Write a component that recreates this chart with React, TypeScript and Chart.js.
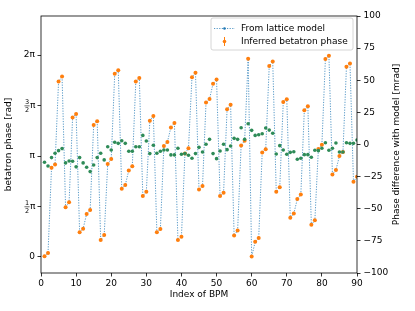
import { useEffect, useRef } from 'react';
import { Chart, registerables } from 'chart.js';
Chart.register(...registerables);

const bpmIndex = [
  1, 2, 3, 4, 5, 6, 7, 8, 9, 10, 11, 12, 13, 14, 15, 16, 17, 18, 19, 20,
  21, 22, 23, 24, 25, 26, 27, 28, 29, 30, 31, 32, 33, 34, 35, 36, 37, 38, 39, 40,
  41, 42, 43, 44, 45, 46, 47, 48, 49, 50, 51, 52, 53, 54, 55, 56, 57, 58, 59, 60,
  61, 62, 63, 64, 65, 66, 67, 68, 69, 70, 71, 72, 73, 74, 75, 76, 77, 78, 79, 80,
  81, 82, 83, 84, 85, 86, 87, 88, 89, 90,
];

// betatron phase [rad], wrapped to [0, 2π)
const betatronPhase = [
  0.02, 0.12, 2.78, 2.88, 5.46, 5.62, 1.55, 1.70, 4.34, 4.45,
  0.77, 0.88, 1.34, 1.46, 4.11, 4.22, 0.53, 0.68, 2.89, 3.05,
  5.70, 5.81, 2.12, 2.24, 2.69, 2.82, 5.46, 5.57, 1.90, 2.03,
  4.24, 4.39, 0.77, 0.87, 3.45, 3.58, 4.03, 4.17, 0.53, 0.63,
  3.22, 3.38, 5.59, 5.73, 2.10, 2.21, 4.81, 4.92, 5.39, 5.52,
  1.90, 2.00, 4.60, 4.74, 0.67, 0.82, 3.47, 3.62, 6.17, 0.01,
  0.47, 0.59, 3.25, 3.35, 5.94, 6.08, 2.03, 2.17, 4.82, 4.91,
  1.22, 1.35, 1.80, 1.94, 4.57, 4.69, 1.00, 1.14, 3.36, 3.49,
  6.16, 6.26, 2.57, 2.71, 3.14, 3.27, 5.92, 6.02, 2.34, 2.50,
];

// phase difference with model [mrad]
const phaseDifference = [
  -13.8, -16.7, -10.2, -6.8, -4.8, -3.2, -14.3, -12.8, -13.0, -17.4,
  -10.2, -14.3, -17.7, -21.1, -15.9, -10.2, -6.8, -12.0, -1.7, -4.3,
  1.7, 0.9, 2.9, 0.9, -5.3, -5.3, -1.7, -1.7, 7.1, 2.7,
  -7.1, -0.6, -6.8, -5.3, -4.3, -4.3, -8.1, -8.1, -2.9, -7.6,
  -7.1, -8.4, -10.7, -7.1, -2.2, -5.8, 0.2, 4.0, -7.1, -11.0,
  -5.0, 0.2, -4.0, -1.2, 4.8, 4.0, 13.0, 4.0, 16.1, 11.0,
  7.1, 7.6, 8.4, 12.8, 11.2, 8.7, -7.4, -0.9, -4.3, -7.6,
  -6.1, -5.6, -11.5, -10.7, -7.9, -7.9, -9.9, -4.5, -4.8, -2.9,
  1.4, -4.5, -2.9, 1.2, -5.8, -5.8, 1.4, 0.9, 0.9, 3.5,
];

const xTicks = [0, 10, 20, 30, 40, 50, 60, 70, 80, 90];
const phaseTickValues = [0, Math.PI / 2, Math.PI, (3 * Math.PI) / 2, 2 * Math.PI];
const phaseTickLabels = ['0', '1/2π', 'π', '3/2π', '2π'];
const diffTicks = [-100, -75, -50, -25, 0, 25, 50, 75, 100];

const FONT = 'DejaVu Sans';
const BLUE = '#1f77b4';
const ORANGE = '#ff7f0e';
const GREEN = '#2e8b57';

const framePlugin = {
  id: 'frame',
  afterDraw(chart: any) {
    const { ctx, chartArea: a } = chart;
    ctx.save();
    ctx.strokeStyle = '#000';
    ctx.lineWidth = 0.8;
    ctx.strokeRect(a.left, a.top, a.right - a.left, a.bottom - a.top);
    ctx.restore();
  },
};

const fractionPlugin = {
  id: 'fractions',
  afterDraw(chart: any) {
    const s = chart.scales.yL;
    const ctx = chart.ctx;
    ctx.save();
    ctx.fillStyle = '#000';
    ctx.strokeStyle = '#000';
    phaseTickValues.forEach((v, i) => {
      const lab = phaseTickLabels[i];
      if (!lab.includes('/')) return;
      const [num, rest] = lab.split('/');
      const den = rest.replace('π', '');
      const y = s.getPixelForValue(v);
      const xr = s.right - 3 - 2.5;
      ctx.font = `9px "${FONT}"`;
      const piW = ctx.measureText('π').width;
      ctx.textAlign = 'right';
      ctx.textBaseline = 'middle';
      ctx.fillText('π', xr, y + 0.5);
      ctx.font = `6.5px "${FONT}"`;
      const dw = Math.max(ctx.measureText(num).width, ctx.measureText(den).width);
      const cx = xr - piW - 1 - dw / 2;
      ctx.textAlign = 'center';
      ctx.textBaseline = 'alphabetic';
      ctx.fillText(num, cx, y - 1.2);
      ctx.textBaseline = 'top';
      ctx.fillText(den, cx, y + 1.4);
      ctx.lineWidth = 0.6;
      ctx.beginPath();
      ctx.moveTo(cx - dw / 2 - 0.5, y + 0.3);
      ctx.lineTo(cx + dw / 2 + 0.5, y + 0.3);
      ctx.stroke();
    });
    ctx.restore();
  },
};

const rightTitlePlugin = {
  id: 'rightTitle',
  afterDraw(chart: any) {
    const { ctx, chartArea: a } = chart;
    ctx.save();
    ctx.translate(397, (a.top + a.bottom) / 2);
    ctx.rotate(-Math.PI / 2);
    ctx.font = `9px "${FONT}"`;
    ctx.fillStyle = '#000';
    ctx.textAlign = 'center';
    ctx.textBaseline = 'middle';
    ctx.fillText('Phase difference with model [mrad]', 0, 0);
    ctx.restore();
  },
};

const legendPlugin = {
  id: 'customLegend',
  afterDraw(chart: any) {
    const ctx = chart.ctx;
    const ds = chart.data.datasets;
    const x0 = 211, y0 = 18, w = 142, h = 32;
    ctx.save();
    ctx.beginPath();
    const r = 2;
    ctx.moveTo(x0 + r, y0);
    ctx.arcTo(x0 + w, y0, x0 + w, y0 + h, r);
    ctx.arcTo(x0 + w, y0 + h, x0, y0 + h, r);
    ctx.arcTo(x0, y0 + h, x0, y0, r);
    ctx.arcTo(x0, y0, x0 + w, y0, r);
    ctx.closePath();
    ctx.fillStyle = 'rgba(255,255,255,0.8)';
    ctx.fill();
    ctx.strokeStyle = '#cccccc';
    ctx.lineWidth = 0.8;
    ctx.stroke();

    // row 1: model line
    const y1 = 28.5;
    ctx.strokeStyle = 'rgba(31,119,180,0.75)';
    ctx.lineWidth = 1;
    ctx.setLineDash([1.2, 1.4]);
    ctx.beginPath();
    ctx.moveTo(214, y1);
    ctx.lineTo(235, y1);
    ctx.stroke();
    ctx.setLineDash([]);
    ctx.fillStyle = BLUE;
    ctx.beginPath();
    ctx.arc(224.5, y1, 1.3, 0, Math.PI * 2);
    ctx.fill();

    // row 2: errorbar marker
    const y2 = 41.5;
    ctx.strokeStyle = ORANGE;
    ctx.lineWidth = 1;
    ctx.beginPath();
    ctx.moveTo(224.5, y2 - 4.5);
    ctx.lineTo(224.5, y2 + 4.5);
    ctx.stroke();
    ctx.fillStyle = ORANGE;
    ctx.beginPath();
    ctx.arc(224.5, y2, 1.8, 0, Math.PI * 2);
    ctx.fill();

    ctx.fillStyle = '#000';
    ctx.font = `9px "${FONT}"`;
    ctx.textAlign = 'left';
    ctx.textBaseline = 'middle';
    ctx.fillText(ds[0].label, 241, y1);
    ctx.fillText(ds[1].label, 241, y2);
    ctx.restore();
  },
};

export default function App() {
  const ref = useRef<HTMLCanvasElement | null>(null);

  useEffect(() => {
    document.body.style.margin = '0';
    const canvas = ref.current;
    if (!canvas) return;
    const phasePoints = bpmIndex.map((x, i) => ({ x, y: betatronPhase[i] }));
    const diffPoints = bpmIndex.map((x, i) => ({ x, y: phaseDifference[i] }));
    const tickFont = { family: FONT, size: 9 };

    const chart = new Chart(canvas, {
      type: 'line',
      data: {
        datasets: [
          {
            label: 'From lattice model',
            data: phasePoints,
            yAxisID: 'yL',
            borderColor: 'rgba(31,119,180,0.75)',
            borderWidth: 1,
            borderDash: [1.2, 1.4],
            pointRadius: 1.2,
            pointBackgroundColor: BLUE,
            pointBorderWidth: 0,
            tension: 0,
            order: 3,
          },
          {
            label: 'Inferred betatron phase',
            data: phasePoints,
            yAxisID: 'yL',
            showLine: false,
            pointRadius: 2,
            pointBackgroundColor: ORANGE,
            pointBorderWidth: 0,
            order: 2,
          },
          {
            label: 'Phase difference',
            data: diffPoints,
            yAxisID: 'yR',
            showLine: false,
            pointRadius: 1.8,
            pointBackgroundColor: GREEN,
            pointBorderWidth: 0,
            order: 1,
          },
        ],
      },
      options: {
        animation: false,
        responsive: false,
        devicePixelRatio: 1,
        layout: { padding: { top: 16, left: 0, right: 0, bottom: 0 } },
        plugins: { legend: { display: false }, tooltip: { enabled: false } },
        scales: {
          x: {
            type: 'linear',
            min: 0,
            max: 90,
            afterBuildTicks: (s: any) => {
              s.ticks = xTicks.map((v) => ({ value: v }));
            },
            afterFit: (s: any) => {
              s.height = 38;
            },
            ticks: { font: tickFont, color: '#000', padding: 2, maxRotation: 0, autoSkip: false },
            grid: { drawOnChartArea: false, drawTicks: true, tickLength: 3.5, color: '#000', lineWidth: 0.8 },
            border: { display: false },
            title: { display: true, text: 'Index of BPM', font: tickFont, color: '#000', padding: { top: 0, bottom: 11 } },
          },
          yL: {
            type: 'linear',
            position: 'left',
            min: -0.5,
            max: 7.5,
            afterBuildTicks: (s: any) => {
              s.ticks = phaseTickValues.map((v) => ({ value: v }));
            },
            afterFit: (s: any) => {
              s.width = 41;
            },
            ticks: {
              font: tickFont,
              color: '#000',
              padding: 2.5,
              autoSkip: false,
              callback: (_v: any, i: number) => (phaseTickLabels[i].includes('/') ? '' : phaseTickLabels[i]),
            },
            grid: { drawOnChartArea: false, drawTicks: true, tickLength: 3.5, color: '#000', lineWidth: 0.8 },
            border: { display: false },
            title: { display: true, text: 'betatron phase [rad]', font: tickFont, color: '#000', padding: { top: 3, bottom: 0 } },
          },
          yR: {
            type: 'linear',
            position: 'right',
            min: -100,
            max: 100,
            afterBuildTicks: (s: any) => {
              s.ticks = diffTicks.map((v) => ({ value: v }));
            },
            afterFit: (s: any) => {
              s.width = 58;
            },
            ticks: {
              font: tickFont,
              color: '#000',
              padding: 3,
              autoSkip: false,
              callback: (v: any) => (v < 0 ? '\u2212' + Math.abs(v) : String(v)),
            },
            grid: { drawOnChartArea: false, drawTicks: true, tickLength: 3.5, color: '#000', lineWidth: 0.8 },
            border: { display: false },
          },
        },
      },
      plugins: [framePlugin, fractionPlugin, rightTitlePlugin, legendPlugin],
    } as any);

    return () => chart.destroy();
  }, []);

  return <canvas ref={ref} width={415} height={311} style={{ display: 'block', width: 415, height: 311 }} />;
}
